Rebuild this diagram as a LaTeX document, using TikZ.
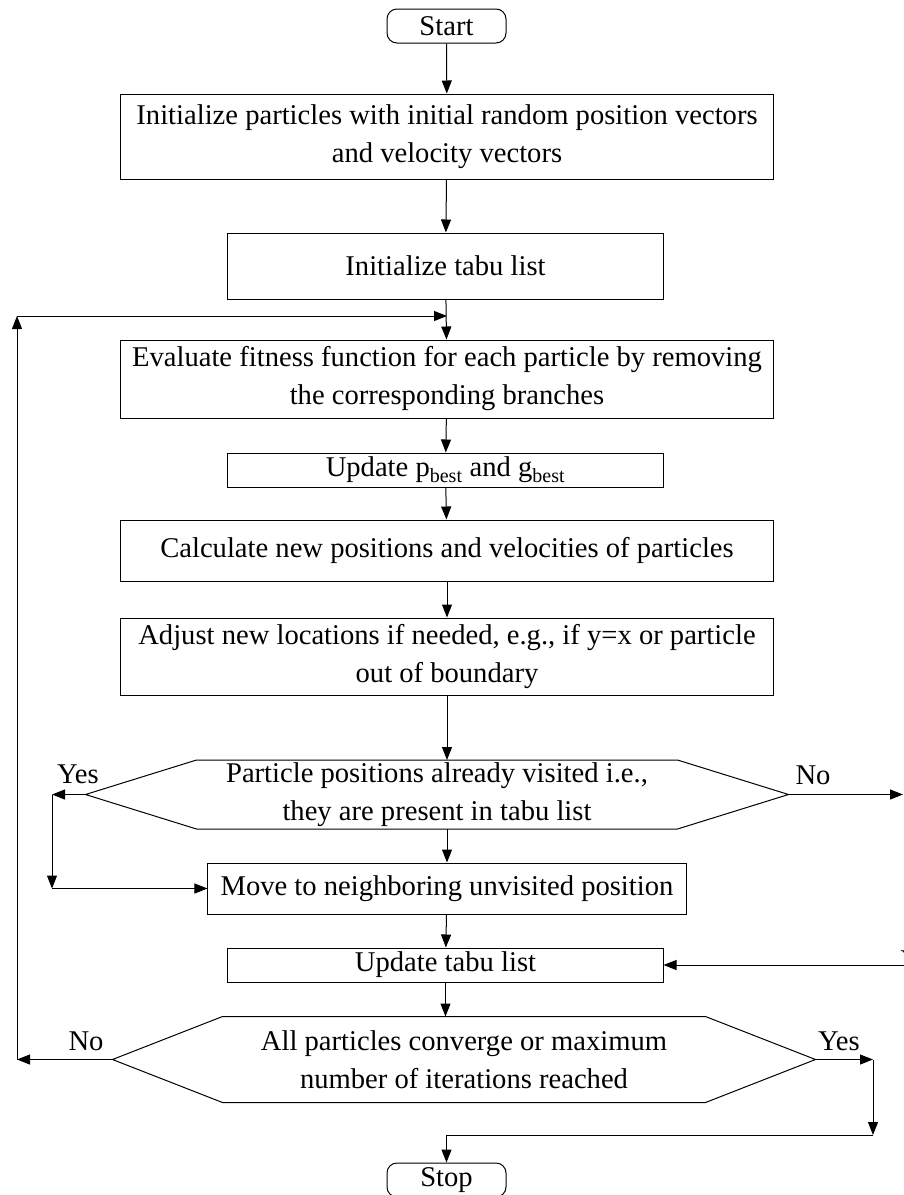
\documentclass[tikz,border=0pt]{standalone}
\usepackage{fontspec}
\setmainfont{Liberation Serif}
\usetikzlibrary{arrows.meta}

\tikzstyle{box}=[draw,rectangle,inner sep=0pt,align=center,font=\fontsize{28.6bp}{38bp}\selectfont]
\tikzstyle{terminal}=[box,rounded corners=10bp,minimum width=119bp,minimum height=34bp]
\tikzstyle{decision}=[rectangle,inner sep=0pt,align=center,font=\fontsize{28.6bp}{38bp}\selectfont]
\tikzstyle{label}=[inner sep=0pt,font=\fontsize{28.6bp}{38bp}\selectfont]
\tikzstyle{flow}=[draw,line width=1bp,-{Triangle[length=13bp,width=10bp]}]

\begin{document}
\begin{tikzpicture}[x=1bp,y=-1bp,line width=1bp]
			\useasboundingbox (0,0) rectangle (904,1195);
			\node[terminal] (start) at (446.5,26) {Start};
			\node[box,minimum width=652bp,minimum height=85bp] (init) at (447,136.5) {Initialize particles with initial random position vectors\\and velocity vectors};
			\node[box,minimum width=435bp,minimum height=66bp] (tabu) at (445.5,266) {Initialize tabu list};
			\node[box,minimum width=652bp,minimum height=78bp] (eval) at (447,379) {Evaluate fitness function for each particle by removing\\the corresponding branches};
			\node[box,minimum width=435bp,minimum height=34bp] (upd1) at (445.5,470) {Update p\textsubscript{best} and g\textsubscript{best}};
			\node[box,minimum width=652bp,minimum height=61bp] (calc) at (447,550.5) {Calculate new positions and velocities of particles};
			\node[box,minimum width=652bp,minimum height=77bp] (adj) at (447,656.5) {Adjust new locations if needed, e.g., if y=x or particle\\out of boundary};
			\node[decision,minimum width=702bp,minimum height=68bp] (dec1) at (437,794.5) {Particle positions already visited i.e.,\\they are present in tabu list};
			\node[box,minimum width=478bp,minimum height=51bp] (move) at (447,888.5) {Move to neighboring unvisited position};
			\node[box,minimum width=435bp,minimum height=34bp] (upd2) at (445.5,965) {Update tabu list};
			\node[decision,minimum width=702bp,minimum height=85bp] (dec2) at (464,1059.5) {All particles converge or maximum\\number of iterations reached};
			\node[terminal] (stop) at (446.5,1180) {Stop};
			% hexagon outlines of the two decisions
			\foreach \d/\c in {dec1/111, dec2/110}
			\draw (\d.west) -- ([xshift=\c bp]\d.north west) -- ([xshift=-\c bp]\d.north east) -- (\d.east)
			  -- ([xshift=-\c bp]\d.south east) -- ([xshift=\c bp]\d.south west) -- cycle;
			% branch labels
			\node[label] (yes1) at (78,774) {Yes};
			\node[label] (no1) at (813,775) {No};
			\node[label] (no2) at (86,1041) {No};
			\node[label] (yes2) at (839,1041) {Yes};
			\node[label,anchor=north west] (yes3) at (900,950) {Yes};
			% corner points of the side lines
			\coordinate (loopL) at (17,1059.5);
			\coordinate (loopT) at (17,316);
			\coordinate (loopM) at (447,316);
			\coordinate (yesL) at (52,794.5);
			\coordinate (yesB) at (52,888.5);
			\coordinate (rgtA) at (903,794.5);
			\coordinate (rgtB) at (904,965);
			\coordinate (yesR) at (873,1059.5);
			\coordinate (yesD) at (873,1135);
			% Connect the steps down the middle
			\foreach \source/ \dest in {start/init, init/tabu, tabu/eval, eval/upd1, upd1/calc, calc/adj, move/upd2}
			\path[flow] (\source) to (\dest);
			\path[flow] (adj.south) to (adj.south |- dec1.north);
			\path[flow] (dec1.south -| move.north) to (move.north);
			\path[flow] (upd2.south) to (upd2.south |- dec2.north);
			% side branches
			\foreach \source/ \dest in {dec1.west/yesL, yesL/yesB, yesB/move.west, dec1.east/rgtA, rgtB/upd2.east,
			  dec2.west/loopL, loopL/loopT, loopT/loopM, dec2.east/yesR, yesR/yesD}
			\path[flow] (\source) to (\dest);
			\path[flow] (yesD) -- (stop.north |- yesD) -- (stop.north);
		\end{tikzpicture}
\end{document}
